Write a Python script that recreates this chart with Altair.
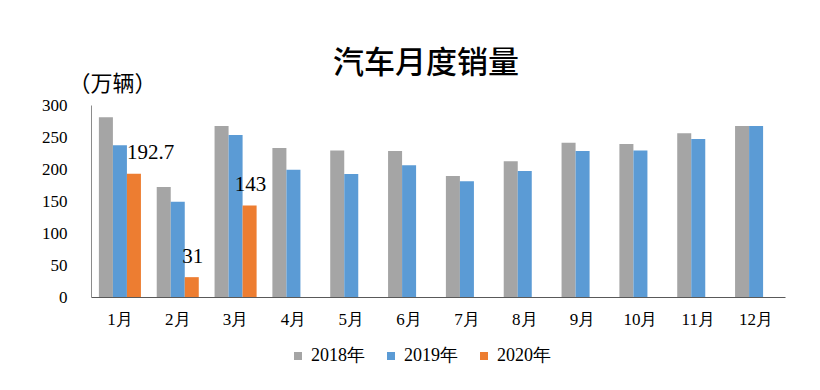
import altair as alt
import pandas as pd

months = ["1月", "2月", "3月", "4月", "5月", "6月", "7月", "8月", "9月", "10月", "11月", "12月"]
years = ["2018年", "2019年", "2020年"]
sales_2018 = [281, 172, 267, 233, 229, 228, 189, 212, 241, 239, 256, 267]
sales_2019 = [237, 149, 253, 199, 192, 206, 181, 197, 228, 229, 247, 267]
sales_2020 = [192.7, 31, 143]
labels_2020 = ["192.7", "31", "143"]
y_ticks = [0, 50, 100, 150, 200, 250, 300]
colors = ["#A5A5A5", "#5B9BD5", "#ED7D31"]

rows = []
for m, v in zip(months, sales_2018):
    rows.append({"month": m, "year": years[0], "value": v, "label": ""})
for m, v in zip(months, sales_2019):
    rows.append({"month": m, "year": years[1], "value": v, "label": ""})
for m, v, t in zip(months, sales_2020, labels_2020):
    rows.append({"month": m, "year": years[2], "value": v, "label": t})
df = pd.DataFrame(rows)

NUM_FONT = "Liberation Serif"
CJK_FONT = "Noto Sans CJK SC"

x_axis = alt.Axis(title=None, labelAngle=0, ticks=False, labelPadding=14,
                  labelFontSize=17, labelFont=NUM_FONT, labelColor="#000000",
                  domainColor="#595959", grid=False)
y_axis = alt.Axis(values=y_ticks, ticks=False, grid=False, labelPadding=24,
                  labelOverlap=False,
                  labelFontSize=17, labelFont=NUM_FONT, labelColor="#000000",
                  domainColor="#8c8c8c",
                  title="（万辆）", titleAngle=0, titleAlign="left", titleBaseline="middle",
                  titleX=-23, titleY=-22, titleFont=CJK_FONT, titleFontSize=22,
                  titleFontWeight="normal", titleColor="#000000")

x_enc = alt.X("month:N", sort=months,
              scale=alt.Scale(paddingInner=0.273, paddingOuter=0.1365), axis=x_axis)
xoff = alt.XOffset("year:N", sort=years, scale=alt.Scale(domain=years, paddingInner=0, paddingOuter=0))
y_enc = alt.Y("value:Q", scale=alt.Scale(domain=[0, 300], nice=False), axis=y_axis)

bars = alt.Chart(df).mark_bar().encode(
    x=x_enc,
    xOffset=xoff,
    y=y_enc,
    color=alt.Color("year:N", sort=years, scale=alt.Scale(domain=years, range=colors),
                    legend=alt.Legend(title=None, orient="none", direction="horizontal",
                                      legendX=198, legendY=242, symbolType="square",
                                      symbolSize=64, symbolStrokeWidth=0, labelFontSize=18,
                                      labelFont=NUM_FONT, labelColor="#000000",
                                      labelOffset=4, columnPadding=17)),
)

lab_df = df[df["label"] != ""]
text_first = alt.Chart(lab_df).transform_filter(alt.datum.month == "1月").mark_text(
    align="left", baseline="alphabetic", dx=-7, dy=-15, fontSize=21, font=NUM_FONT, color="#000000"
).encode(x=x_enc, xOffset=xoff, y=y_enc, text="label:N")
text_rest = alt.Chart(lab_df).transform_filter(alt.datum.month != "1月").mark_text(
    align="center", baseline="alphabetic", dx=1, dy=-14, fontSize=21, font=NUM_FONT, color="#000000"
).encode(x=x_enc, xOffset=xoff, y=y_enc, text="label:N")

chart = alt.layer(bars, text_first, text_rest).properties(
    width=694, height=192,
    background="#FFFFFF",
    title=alt.TitleParams("汽车月度销量", font=CJK_FONT, fontSize=31, fontWeight=500,
                          color="#000000", anchor="middle", frame="group", dx=-12, offset=-8),
    autosize=alt.AutoSizeParams(type="none"),
    padding={"left": 83, "top": 97, "right": 27, "bottom": 70},
).configure_view(stroke="transparent", strokeWidth=0)

chart.save("out.html", embed_options={"renderer": "svg", "actions": False})
